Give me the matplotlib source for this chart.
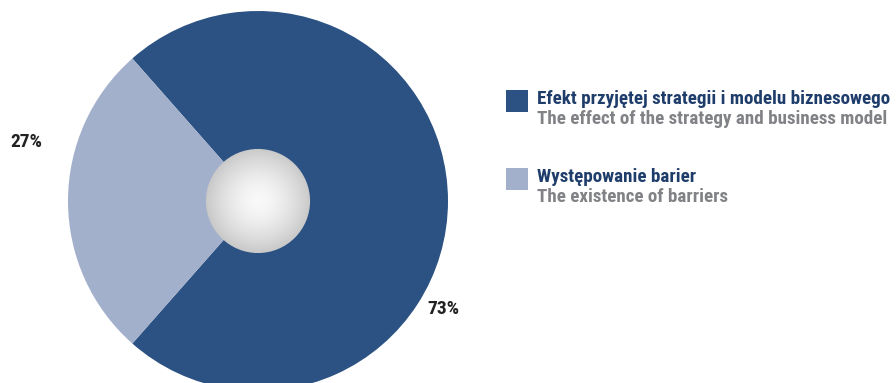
import numpy as np
import matplotlib
matplotlib.use("Agg")
import matplotlib.pyplot as plt
from matplotlib import font_manager
from matplotlib.patches import Circle, Rectangle

shares = [73, 27]
labels_pl = ["Efekt przyjętej strategii i modelu biznesowego", "Występowanie barier"]
labels_en = ["The effect of the strategy and business model", "The existence of barriers"]
colors = ["#2b5283", "#a3b0cc"]

names = {f.name for f in font_manager.fontManager.ttflist}
for font in ["Roboto Condensed", "PT Sans Narrow", "Archivo Narrow", "Barlow Condensed", "Liberation Sans"]:
    if font in names:
        break
plt.rcParams["font.family"] = [font, "DejaVu Sans"]

W, H = 896, 383
fig = plt.figure(figsize=(W / 100, H / 100), dpi=100)

# pie axes placed in pixels: centre (258, 201), radius 190
cx, cy, r = 258, 201, 190
ax = fig.add_axes([(cx - r) / W, (H - cy - r) / H, 2 * r / W, 2 * r / H])

start = 180 + shares[1] / sum(shares) * 360 / 2
ax.pie(shares, colors=colors, startangle=start, counterclock=True, radius=1,
       wedgeprops=dict(linewidth=0))
ax.set_xlim(-1, 1)
ax.set_ylim(-1, 1)
ax.set_aspect("equal")
ax.axis("off")

# shaded hub in the middle
hub = 0.274
g = np.linspace(-1, 1, 300)
xx, yy = np.meshgrid(g, g)
d = np.clip(np.sqrt(xx ** 2 + yy ** 2), 0, 1)
shade = 0.975 - 0.19 * d ** 1.6
img = ax.imshow(shade, cmap="gray", vmin=0, vmax=1, extent=[-hub, hub, -hub, hub],
                zorder=3, interpolation="bilinear")
img.set_clip_path(Circle((0, 0), hub, transform=ax.transData))

ax.text(-1.218, 0.31, f"{shares[1]}%", ha="center", va="center", fontsize=14,
        fontweight="bold", color="#222222", clip_on=False)
ax.text(0.975, -0.568, f"{shares[0]}%", ha="center", va="center", fontsize=14,
        fontweight="bold", color="#222222", clip_on=False)

# legend: square, Polish label, English label
for i, (pl, en) in enumerate(zip(labels_pl, labels_en)):
    top = 90 + i * 78
    fig.patches.append(Rectangle((506 / W, 1 - (top + 22) / H), 22 / W, 22 / H,
                                 transform=fig.transFigure, color=colors[i], lw=0))
    fig.text(537 / W, 1 - (top + 14.5) / H, pl, fontsize=13.7, fontweight="bold",
             color="#1f3d6b", va="baseline")
    fig.text(537 / W, 1 - (top + 34) / H, en, fontsize=13.7, fontweight="bold",
             color="#808285", va="baseline")

fig.savefig("out.png", dpi=100)
